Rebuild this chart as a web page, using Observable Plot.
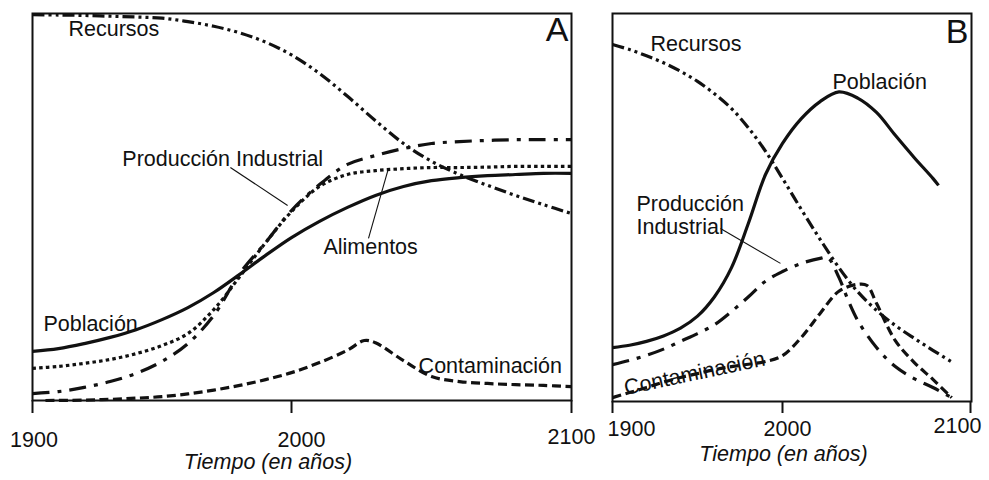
<!DOCTYPE html>
<html>
<head>
<meta charset="utf-8">
<script src="https://cdn.jsdelivr.net/npm/d3@7"></script>
<script src="https://cdn.jsdelivr.net/npm/@observablehq/plot@0.6"></script>
<style>
  html, body { margin: 0; padding: 0; background: #fff; }
  #wrap { position: relative; width: 989px; height: 480px; overflow: hidden; background: #fff; }
  #panelA, #panelB { position: absolute; top: 0; }
  #panelA { left: 0; }
  #panelB { left: 590px; }
</style>
</head>
<body>
<div id="wrap"><div id="panelA"></div><div id="panelB"></div></div>
<script>
// ---------- Panel A data (relative units, 0 = axis, 100 = top of frame) ----------
const yearsA = [1900,1910,1920,1930,1940,1950,1960,1970,1980,1990,2000,2010,2020,2030,2040,2050,2060,2070,2080,2090,2100];
const recursosA  = [99.7,99.6,99.5,99.3,99.1,98.8,97.9,96.7,95.0,92.6,89.3,84.5,78.6,72.3,66.4,61.8,58.4,55.6,53.0,50.6,48.3];
const poblacionA = [12.7,13.4,14.7,16.3,18.3,20.9,24.0,27.9,32.6,37.5,42.1,46.3,49.9,53.0,55.3,56.8,57.6,58.1,58.4,58.7,58.7];
const alimentosA = [8.3,8.8,9.6,10.6,12.1,14.2,17.3,23.5,32.0,40.8,48.8,55.3,58.4,59.4,59.9,60.2,60.2,60.3,60.5,60.5,60.5];
const industriaA = [1.8,2.3,3.4,4.9,7.0,10.1,14.7,22.0,32.8,40.8,49.1,55.8,61.0,63.3,65.1,66.4,66.9,67.2,67.4,67.4,67.4];
const contamYearsA = [1905,1920,1930,1940,1950,1960,1970,1980,1990,2000,2010,2020,2026,2030,2040,2050,2060,2070,2080,2090,2100];
const contamA      = [0,0.1,0.3,0.6,1.0,1.7,2.7,3.9,5.4,7.2,9.8,13.0,15.5,14.9,10.3,6.2,4.9,4.4,4.1,3.9,3.6];

// ---------- Panel B data ----------
const yearsB = [1900,1910,1920,1930,1940,1950,1960,1970,1980,1990,2000,2010,2020,2030,2040,2050,2060,2070,2080,2090];
const recursosB = [92.0,90.7,89.1,87.3,85.1,82.5,79.3,75.5,70.5,64.5,57.5,49.5,41.8,34.5,28.3,23.5,19.6,16.3,13.2,10.2];
const popYearsB = [1900,1910,1920,1930,1940,1950,1960,1970,1980,1990,2000,2010,2020,2030,2040,2050,2060,2070,2080,2083];
const poblacionB = [13.9,14.5,15.5,16.9,18.9,22.0,27.0,34.5,46.0,58.5,66.5,72.9,77.3,79.8,78.2,74.5,68.6,62.9,57.5,55.7];
const indYearsB = [1900,1910,1920,1930,1940,1950,1960,1970,1980,1990,2000,2010,2020,2024,2030,2035,2040,2050,2060,2070,2080,2090];
const industriaB = [9.5,10.6,11.9,13.5,15.5,17.5,19.8,23.2,27.0,31.0,33.5,35.6,36.9,37.1,32.0,26.0,20.9,13.9,9.0,5.9,3.6,1.0];
const contamYearsB = [1900,1910,1920,1930,1940,1950,1960,1970,1980,1990,2000,2010,2020,2030,2040,2045,2050,2060,2070,2080,2090];
const contamB = [1.0,2.3,3.6,5.0,6.2,7.2,8.2,9.0,9.6,10.3,11.8,16.5,22.7,28.4,30.2,29.9,25.3,15.7,10.1,5.7,1.0];

// ---------- Axis ticks ----------
const tickYears = [1900, 2000, 2100];
const axisTitle = "Tiempo (en años)";

// ---------- Annotations (text, year, value) ----------
const labelsA = [
  {text: "Recursos", year: 1913.9, value: 96.0},
  {text: "Producción Industrial", year: 1934.7, value: 62.5},
  {text: "Alimentos", year: 2011.4, value: 39.7},
  {text: "Población", year: 1904.2, value: 19.8},
  {text: "Contaminación", year: 2045.4, value: 9.0}
];
const leadersA = [
  {year1: 1976.4, value1: 60.2, year2: 1998.5, value2: 50.4},
  {year1: 2027.5, value1: 41.9, year2: 2034.6, value2: 59.9}
];
const labelsB = [
  {text: "Recursos", year: 1922.4, value: 92.2},
  {text: "Población", year: 2026.6, value: 82.4},
  {text: "Producción", year: 1914.1, value: 51.0},
  {text: "Industrial", year: 1914.1, value: 45.0}
];
const rotatedLabelB = [{text: "Contaminación", year: 1907, value: 3.4}];
const leadersB = [{year1: 1963.5, value1: 44.6, year2: 1998.8, value2: 35.6}];
const panelLetterA = [{text: "A", year: 2098.9, value: 95.8}];
const panelLetterB = [{text: "B", year: 2098.9, value: 95.3}];

// ---------- helpers ----------
const FONT = "'Liberation Sans', Arial, Helvetica, sans-serif";
const INK = "#111";
const FS = 21.5;
const zip = (xs, vs) => xs.map((x, i) => ({year: x, value: vs[i]}));
const DASH = {
  recursos: "12,4,3,4,3,4",
  industria: "17,8,4,8",
  alimentos: "3.5,3.2",
  contam: "9,4.5"
};
function curve(xs, vs, dash) {
  return Plot.line(zip(xs, vs), {
    x: "year", y: "value", curve: "catmull-rom",
    stroke: INK, strokeWidth: 3.2,
    strokeDasharray: dash, strokeLinecap: "butt", strokeLinejoin: "round"
  });
}
function tickLabels(pads, dxs) {
  return tickYears.map((t, i) => Plot.axisX([t], {
    tickSize: 0, tickPadding: pads[i], dx: dxs[i],
    tickFormat: d => String(d), label: null, fontSize: FS, fill: INK
  }));
}
function labelMarks(labels, extra = {}) {
  return Plot.text(labels, {
    x: "year", y: "value", text: "text", textAnchor: "start",
    fontSize: FS, fill: INK, ...extra
  });
}
function leaderMarks(leaders) {
  return Plot.link(leaders, {
    x1: "year1", y1: "value1", x2: "year2", y2: "value2",
    stroke: INK, strokeWidth: 1.1
  });
}

// ---------- Panel A ----------
const plotA = Plot.plot({
  width: 590, height: 480,
  marginLeft: 32, marginRight: 19, marginTop: 13, marginBottom: 80,
  x: {type: "linear", domain: [1900, 2000, 2100], range: [32, 291, 571], label: null},
  y: {domain: [0, 100], range: [400, 13], axis: null, label: null},
  style: {fontFamily: FONT, fontSize: FS + "px", color: INK, background: "transparent", overflow: "visible"},
  marks: [
    Plot.frame({stroke: INK, strokeWidth: 2}),
    Plot.axisX(tickYears, {tickSize: 13, tickFormat: () => "", strokeWidth: 2, stroke: INK, label: null}),
    ...tickLabels([31, 31, 28], [1.5, 10, 0]),
    Plot.text([axisTitle], {frameAnchor: "bottom", dx: -34, dy: 68, fontStyle: "italic", fontSize: FS, fill: INK}),
    curve(yearsA, recursosA, DASH.recursos),
    curve(yearsA, industriaA, DASH.industria),
    curve(yearsA, alimentosA, DASH.alimentos),
    curve(yearsA, poblacionA, null),
    curve(contamYearsA, contamA, DASH.contam),
    leaderMarks(leadersA),
    labelMarks(labelsA),
    Plot.text(panelLetterA, {x: "year", y: "value", text: "text", textAnchor: "end", fontSize: 34, fill: INK})
  ]
});
document.getElementById("panelA").appendChild(plotA);

// ---------- Panel B ----------
const plotB = Plot.plot({
  width: 399, height: 480,
  marginLeft: 22, marginRight: 18, marginTop: 13, marginBottom: 79,
  x: {type: "linear", domain: [1900, 2000, 2100], range: [22, 192, 380], label: null},
  y: {domain: [0, 100], range: [401, 13], axis: null, label: null},
  style: {fontFamily: FONT, fontSize: FS + "px", color: INK, background: "transparent", overflow: "visible"},
  marks: [
    Plot.frame({stroke: INK, strokeWidth: 2}),
    Plot.axisX(tickYears, {tickSize: 12, tickFormat: () => "", strokeWidth: 2, stroke: INK, label: null}),
    ...tickLabels([19, 19, 16], [19, 5, -13]),
    Plot.text([axisTitle], {frameAnchor: "bottom", dx: -8.5, dy: 59, fontStyle: "italic", fontSize: FS, fill: INK}),
    curve(yearsB, recursosB, DASH.recursos),
    curve(indYearsB, industriaB, DASH.industria),
    curve(popYearsB, poblacionB, null),
    curve(contamYearsB, contamB, DASH.contam),
    leaderMarks(leadersB),
    labelMarks(labelsB),
    labelMarks(rotatedLabelB, {rotate: -12}),
    Plot.text(panelLetterB, {x: "year", y: "value", text: "text", textAnchor: "end", fontSize: 34, fill: INK})
  ]
});
document.getElementById("panelB").appendChild(plotB);
</script>
</body>
</html>
